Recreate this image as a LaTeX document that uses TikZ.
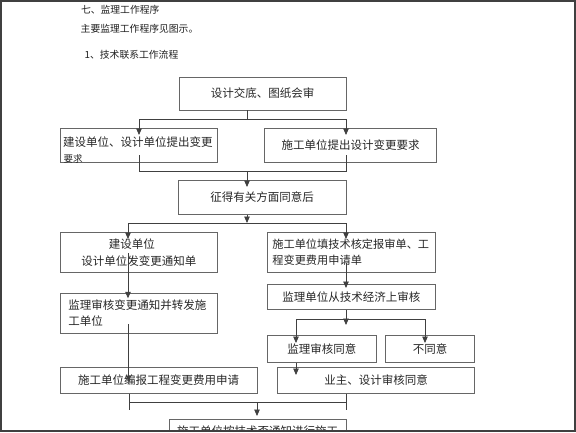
\documentclass[tikz,border=0pt]{standalone}
\usepackage{fontspec}
\setmainfont{Noto Sans CJK SC}
\usetikzlibrary{arrows.meta}
\begin{document}
\begin{tikzpicture}[x=1pt,y=-1pt,
  box/.style={draw=black!60, line width=0.8pt, inner sep=0pt, font=\fontsize{11.5}{15}\selectfont, text=black!85},
  txt/.style={anchor=west, inner sep=0pt, text=black!85},
  conn/.style={draw=black!75, line width=0.8pt},
  arr/.style={conn, -{Triangle[length=6.5pt,width=5.5pt]}},
  hdr/.style={anchor=west, inner sep=0pt, font=\fontsize{9.8}{11}\selectfont, text=black!88}]
\useasboundingbox (0,0) rectangle (576,432);
\begin{scope}
\clip (1,1) rectangle (575,431);
% headings
\node[hdr] (h1) at (80.8,9.3) {七、监理工作程序};
\node[hdr] (h2) at (80.5,28.3) {主要监理工作程序见图示。};
\node[hdr] (h3) at (84.5,55) {1、技术联系工作流程};
% boxes
\node[box, minimum width=167pt, minimum height=33pt] (top) at (262.5,93.5) {设计交底、图纸会审};
\node[box, minimum width=157.7pt, minimum height=34.7pt] (b2l) at (138.85,145.35) {};
\node[txt, font=\fontsize{11.5}{15}\selectfont] (b2lt) at (63,141.7) {建设单位、设计单位提出变更};
\begin{scope}
\clip (60,150) rectangle (217.7,162);
\node[txt, font=\fontsize{9.5}{10}\selectfont] (b2lt2) at (63.5,159) {要求};
\end{scope}
\node[box, minimum width=172.4pt, minimum height=34.7pt] (b2r) at (350.5,145.35) {施工单位提出设计变更要求};
\node[box, minimum width=167.7pt, minimum height=34.3pt] (b3) at (262.15,197.15) {征得有关方面同意后};
\node[box, minimum width=157.7pt, minimum height=40pt, align=center, font=\fontsize{11.5}{17.3}\selectfont] (b4l) at (138.85,252.3) {建设单位\hspace*{14pt}\\设计单位发变更通知单};
\node[box, minimum width=167.3pt, minimum height=40pt, text width=158pt, align=left, font=\fontsize{11.2}{15.6}\selectfont] (b4r) at (351.35,252.3) {施工单位填技术核定报审单、工\\程变更费用申请单};
\node[box, minimum width=157.7pt, minimum height=40pt, text width=141.1pt, align=left, font=\fontsize{11.5}{16}\selectfont] (b5l) at (138.85,313.3) {监理审核变更通知并转发施\\工单位};
\node[box, minimum width=167.3pt, minimum height=25pt] (b5r) at (351.35,296.8) {监理单位从技术经济上审核};
\node[box, minimum width=108.3pt, minimum height=26.8pt] (b6a) at (321.85,348.9) {监理审核同意};
\node[box, minimum width=89pt, minimum height=26.8pt] (b6b) at (430.2,348.9) {不同意};
\node[box, minimum width=197.3pt, minimum height=25.6pt] (b7l) at (158.65,380.5) {施工单位编报工程变更费用申请};
\node[box, minimum width=197.4pt, minimum height=25.6pt] (b7r) at (376,380.5) {业主、设计审核同意};
\node[box, minimum width=177pt, minimum height=23.4pt] (b8) at (257.5,431) {施工单位按技术否通知进行施工};
% junction coordinates
\coordinate (h1l) at (139,119); \coordinate (h1m) at (247,119); \coordinate (h1r) at (346,119);
\coordinate (e2l) at (139,135); \coordinate (e2r) at (346,135);
\coordinate (u2l) at (139,155); \coordinate (u2r) at (346,155);
\coordinate (h2l) at (139,171); \coordinate (h2m) at (247,171); \coordinate (h2r) at (346,171);
\coordinate (e3) at (247,187);
\coordinate (h3l) at (128,223); \coordinate (h3m) at (247,223); \coordinate (h3r) at (346,223);
\coordinate (e4l) at (128,239); \coordinate (e4r) at (346,239);
\coordinate (u4l) at (128,253); \coordinate (e5l) at (128,298.3);
\coordinate (u4r) at (346,263); \coordinate (e5r) at (346,288);
\coordinate (d5r) at (346,325);
\coordinate (h5l) at (296,319); \coordinate (h5r) at (425,319);
\coordinate (e6a) at (296,343); \coordinate (e6b) at (425,343);
\coordinate (u5l) at (128.5,324); \coordinate (e7l) at (128.5,382);
\coordinate (e7r) at (296,375);
\coordinate (h7l) at (129,402); \coordinate (h7m) at (257,402); \coordinate (h7r) at (346,402);
\coordinate (t7l) at (129,410); \coordinate (t7r) at (346,410);
\coordinate (e8) at (257,416);
% connectors
\draw[conn] (top.south -| h1m) -- (h1m);
\draw[conn] (h1l) -- (h1r);
\draw[arr] (h1l) -- (e2l);
\draw[arr] (h1r) -- (e2r);
\draw[conn] (u2l) -- (h2l) -- (h2r) -- (u2r);
\draw[arr] (h2m) -- (e3);
\draw[arr] (b3.south -| h3m) -- (h3m);
\draw[conn] (h3l) -- (h3r);
\draw[arr] (h3l) -- (e4l);
\draw[arr] (h3r) -- (e4r);
\draw[arr] (u4l) -- (e5l);
\draw[arr] (u4r) -- (e5r);
\draw[arr] (b5r.south -| d5r) -- (d5r);
\draw[conn] (h5l) -- (h5r);
\draw[arr] (h5l) -- (e6a);
\draw[arr] (h5r) -- (e6b);
\draw[arr] (u5l) -- (e7l);
\draw[arr] (b6a.south -| e7r) -- (e7r);
\draw[conn] (b7l.south -| t7l) -- (t7l);
\draw[conn] (b7r.south -| t7r) -- (t7r);
\draw[conn] (h7l) -- (h7r);
\draw[arr] (h7m) -- (e8);
\end{scope}
\draw[black!75, line width=1.6pt] (0.8,0.8) rectangle (575.2,431.2);
\end{tikzpicture}
\end{document}
